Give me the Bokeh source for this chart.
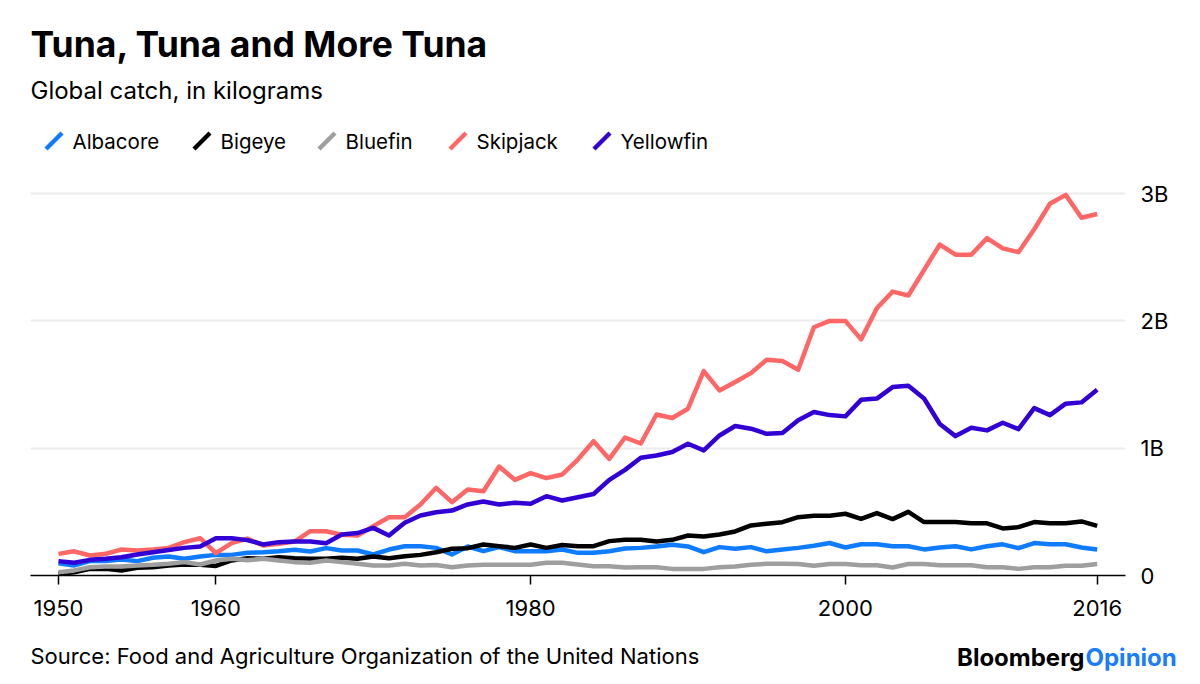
from bokeh.plotting import figure
from bokeh.layouts import column
from bokeh.models import Range1d, FixedTicker, Label, Arrow
from bokeh.embed import file_html
from bokeh.resources import INLINE

# ---------------- data (billions of kilograms) ----------------
years = list(range(1950, 2017))

albacore = [0.097, 0.079, 0.113, 0.113, 0.126, 0.113, 0.139, 0.149, 0.131, 0.149,
            0.162, 0.162, 0.178, 0.183, 0.191, 0.202, 0.189, 0.215, 0.196, 0.196,
            0.165, 0.204, 0.230, 0.230, 0.217, 0.165, 0.228, 0.191, 0.223, 0.191,
            0.191, 0.191, 0.204, 0.178, 0.178, 0.191, 0.212, 0.217, 0.228, 0.241,
            0.228, 0.183, 0.223, 0.210, 0.223, 0.190, 0.204, 0.217, 0.233, 0.255,
            0.220, 0.245, 0.245, 0.230, 0.230, 0.205, 0.220, 0.230, 0.205, 0.230,
            0.245, 0.215, 0.255, 0.245, 0.245, 0.220, 0.205]

bigeye = [0.013, 0.026, 0.052, 0.052, 0.040, 0.060, 0.065, 0.079, 0.086, 0.084,
          0.075, 0.118, 0.135, 0.131, 0.144, 0.136, 0.131, 0.131, 0.139, 0.131,
          0.149, 0.136, 0.152, 0.162, 0.183, 0.210, 0.215, 0.243, 0.230, 0.217,
          0.243, 0.217, 0.240, 0.230, 0.230, 0.270, 0.280, 0.280, 0.267, 0.280,
          0.314, 0.307, 0.322, 0.346, 0.393, 0.406, 0.419, 0.458, 0.470, 0.470,
          0.485, 0.445, 0.490, 0.443, 0.500, 0.420, 0.420, 0.420, 0.410, 0.410,
          0.370, 0.380, 0.420, 0.410, 0.410, 0.425, 0.390]

bluefin = [0.026, 0.040, 0.065, 0.070, 0.070, 0.079, 0.084, 0.092, 0.105, 0.086,
           0.118, 0.131, 0.120, 0.131, 0.118, 0.105, 0.100, 0.118, 0.105, 0.092,
           0.079, 0.079, 0.092, 0.079, 0.082, 0.065, 0.079, 0.084, 0.084, 0.084,
           0.084, 0.100, 0.100, 0.086, 0.073, 0.073, 0.062, 0.065, 0.065, 0.052,
           0.052, 0.052, 0.065, 0.070, 0.084, 0.092, 0.092, 0.090, 0.076, 0.090,
           0.090, 0.080, 0.080, 0.063, 0.090, 0.090, 0.080, 0.080, 0.080, 0.065,
           0.065, 0.052, 0.065, 0.065, 0.076, 0.076, 0.090]

skipjack = [0.170, 0.190, 0.157, 0.170, 0.204, 0.196, 0.204, 0.217, 0.262, 0.293,
            0.175, 0.254, 0.290, 0.236, 0.249, 0.267, 0.348, 0.348, 0.320, 0.314,
            0.388, 0.458, 0.458, 0.558, 0.689, 0.576, 0.676, 0.662, 0.856, 0.751,
            0.804, 0.765, 0.793, 0.911, 1.055, 0.916, 1.084, 1.037, 1.265, 1.237,
            1.310, 1.605, 1.454, 1.520, 1.590, 1.695, 1.685, 1.616, 1.950, 2.000,
            2.000, 1.855, 2.100, 2.230, 2.200, 2.400, 2.600, 2.520, 2.520, 2.650,
            2.570, 2.540, 2.720, 2.920, 2.990, 2.810, 2.840]

yellowfin = [0.113, 0.100, 0.123, 0.131, 0.144, 0.165, 0.183, 0.200, 0.217, 0.228,
             0.293, 0.293, 0.278, 0.244, 0.262, 0.267, 0.267, 0.254, 0.322, 0.333,
             0.374, 0.314, 0.414, 0.471, 0.497, 0.510, 0.558, 0.581, 0.558, 0.571,
             0.563, 0.623, 0.589, 0.615, 0.640, 0.751, 0.830, 0.925, 0.943, 0.970,
             1.035, 0.983, 1.100, 1.174, 1.153, 1.113, 1.120, 1.220, 1.285, 1.260,
             1.250, 1.380, 1.390, 1.480, 1.490, 1.390, 1.190, 1.095, 1.160, 1.140,
             1.200, 1.150, 1.315, 1.260, 1.350, 1.360, 1.460]

series_names = ["Albacore", "Bigeye", "Bluefin", "Skipjack", "Yellowfin"]
series_values = [albacore, bigeye, bluefin, skipjack, yellowfin]
series_colors = ["#0f7bff", "#000000", "#9e9e9e", "#ff6666", "#3000d4"]

x_ticks = [1950, 1960, 1980, 2000, 2016]
y_ticks = [0, 1, 2, 3]
y_tick_labels = {0: "0", 1: "1B", 2: "2B", 3: "3B"}

FONT = "Inter"

# layout constants (pixels)
FRAME_BOTTOM = 575                       # canvas y of the x axis
legend_text_x = [72, 220, 345, 476, 620]  # canvas x where each legend label starts
LEGEND_Y = 140.5                         # canvas y of legend row centre

# ---------------- main chart (frame spans from the very top to the x axis) ----------------
p = figure(width=1200, height=630,
           x_range=Range1d(1948.22, 2017.8), y_range=Range1d(0, 4.517),
           output_backend="svg", toolbar_location=None,
           y_axis_location="right", frame_align=False,
           min_border_left=30, min_border_right=75,
           min_border_top=0, min_border_bottom=55)
p.outline_line_color = None
p.background_fill_color = "white"
p.border_fill_color = "white"

p.xgrid.visible = False
p.ygrid.grid_line_color = "#ececec"
p.ygrid.grid_line_width = 2
p.ygrid.ticker = FixedTicker(ticks=[1, 2, 3])

xa = p.xaxis[0]
xa.ticker = FixedTicker(ticks=x_ticks)
xa.axis_line_color = "black"
xa.axis_line_width = 1.5
xa.major_tick_line_color = "black"
xa.major_tick_line_width = 1.5
xa.major_tick_out = 9
xa.major_tick_in = 0
xa.minor_tick_line_color = None
xa.major_label_standoff = 15
xa.major_label_text_font = FONT
xa.major_label_text_font_size = "22px"
xa.major_label_text_color = "black"

ya = p.yaxis[0]
ya.ticker = FixedTicker(ticks=y_ticks)
ya.major_label_overrides = y_tick_labels
ya.axis_line_color = None
ya.major_tick_line_color = None
ya.minor_tick_line_color = None
ya.major_tick_out = 0
ya.major_tick_in = 0
ya.major_label_standoff = 15
ya.major_label_text_font = FONT
ya.major_label_text_font_size = "22px"
ya.major_label_text_color = "black"

for name, vals, col in zip(series_names, series_values, series_colors):
    p.line(years, vals, line_color=col, line_width=4.5, line_join="round")


def add_label(fig, text, x, y, size, bold=False, color="black", align="left",
              baseline="alphabetic"):
    fig.add_layout(Label(x=x, y=y, x_units="screen", y_units="screen", text=text,
                         text_font=FONT, text_font_size=size,
                         text_font_style="bold" if bold else "normal",
                         text_color=color, text_align=align,
                         text_baseline=baseline))


# ---- legend: slanted key + label for each series ----
FRAME_LEFT = 30
for name, col, tx in zip(series_names, series_colors, legend_text_x):
    cx = tx - 18.5 - FRAME_LEFT
    cy = FRAME_BOTTOM - LEGEND_Y
    p.add_layout(Arrow(end=None, x_start=cx - 8, y_start=cy - 8, x_end=cx + 8, y_end=cy + 8,
                       start_units="screen", end_units="screen",
                       line_color=col, line_width=4.5))
    add_label(p, name, tx - FRAME_LEFT, cy, "20.5px", baseline="middle")

add_label(p, "Tuna, Tuna and More Tuna", 0, 531, "35.5px", bold=True)
add_label(p, "Global catch, in kilograms", 0, 485, "24px")

# ---------------- footer ----------------
f = figure(width=1200, height=54, x_range=Range1d(0, 1), y_range=Range1d(0, 1),
           output_backend="svg", toolbar_location=None, frame_align=False,
           x_axis_location=None, y_axis_location=None, min_border=0,
           min_border_left=0, min_border_right=0, min_border_top=0, min_border_bottom=0)
f.outline_line_color = None
f.grid.visible = False
f.background_fill_color = "white"
f.border_fill_color = "white"

add_label(f, "Source: Food and Agriculture Organization of the United Nations", 30, 29, "22px")
add_label(f, "Bloomberg", 1084, 27, "24px", bold=True, align="right")
add_label(f, "Opinion", 1085, 27, "24px", bold=True, color="#1a7cff")

layout = column(p, f, spacing=0)
open("out.html", "w").write(file_html(layout, INLINE))
